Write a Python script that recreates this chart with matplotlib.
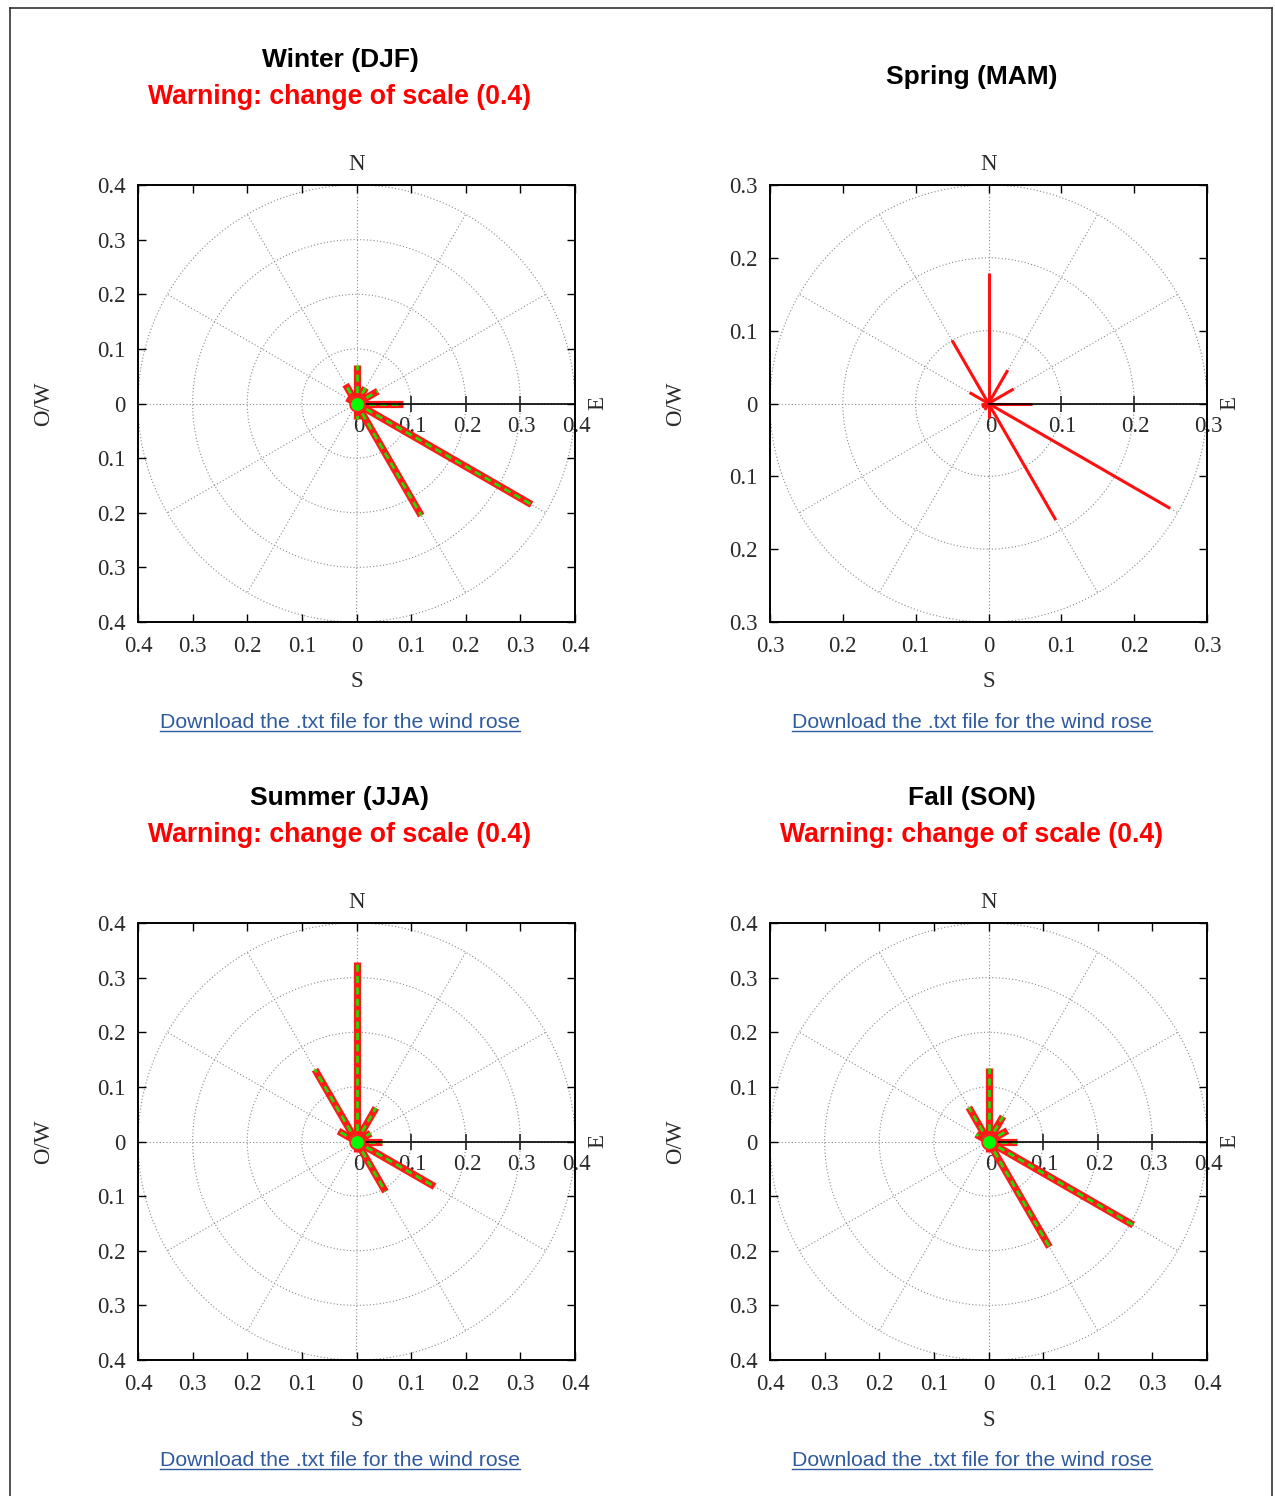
import numpy as np
import matplotlib
matplotlib.use("Agg")
import matplotlib.pyplot as plt
from matplotlib.patches import Circle
from matplotlib.lines import Line2D

W, H = 1275, 1496

# ---------------- data ----------------
bearings = [0, 30, 60, 90, 120, 150, 180, 210, 240, 270, 300, 330]  # degrees from N, clockwise

winter = [0.070, 0.033, 0.045, 0.085, 0.370, 0.237, 0.028, 0.012, 0.010, 0.010, 0.020, 0.040]
spring = [0.179, 0.053, 0.040, 0.060, 0.288, 0.185, 0.020, 0.010, 0.010, 0.010, 0.030, 0.100]
summer = [0.329, 0.071, 0.030, 0.046, 0.165, 0.106, 0.020, 0.010, 0.010, 0.010, 0.038, 0.152]
fall   = [0.134, 0.053, 0.040, 0.053, 0.306, 0.223, 0.020, 0.010, 0.010, 0.010, 0.026, 0.072]

titles = ["Winter (DJF)", "Spring (MAM)", "Summer (JJA)", "Fall (SON)"]
warnings = ["Warning: change of scale (0.4)", None,
            "Warning: change of scale (0.4)", "Warning: change of scale (0.4)"]
scales = [0.4, 0.3, 0.4, 0.4]
styles = ["dashed", "plain", "dashed", "dashed"]
values = [winter, spring, summer, fall]

tick_vals_04 = [-0.4, -0.3, -0.2, -0.1, 0.0, 0.1, 0.2, 0.3, 0.4]
tick_labs_04 = ["0.4", "0.3", "0.2", "0.1", "0", "0.1", "0.2", "0.3", "0.4"]
tick_vals_03 = [-0.3, -0.2, -0.1, 0.0, 0.1, 0.2, 0.3]
tick_labs_03 = ["0.3", "0.2", "0.1", "0", "0.1", "0.2", "0.3"]

link_text = "Download the .txt file for the wind rose"

# ---------------- layout (pixels) ----------------
col_center = [340, 972]
ax_left = [138, 770]
ax_size = 437
ax_top = [185, 923]

SERIF = ["Liberation Serif", "DejaVu Serif"]
SANS = ["Liberation Sans", "DejaVu Sans"]
FS = 16.5

fig = plt.figure(figsize=(W / 100, H / 100), dpi=100)
fig.patch.set_facecolor("white")


def fx(x):
    return x / W


def fy(y):
    return 1 - y / H


# page border
for (x0, y0, x1, y1) in [(10, 8, 1272, 8), (10, 8, 10, 1500), (1272, 8, 1272, 1500)]:
    fig.add_artist(Line2D([fx(x0), fx(x1)], [fy(y0), fy(y1)], transform=fig.transFigure,
                          color="#333333", lw=1.2))

grid_col = "#8a8a8a"
txt_col = "#2a2a2a"

for i in range(4):
    row, col = divmod(i, 2)
    L = ax_left[col]
    T = ax_top[row]
    R = L + ax_size
    B = T + ax_size
    rmax = scales[i]
    ax = fig.add_axes([fx(L), fy(B), ax_size / W, ax_size / H])
    ax.set_xlim(-rmax, rmax)
    ax.set_ylim(-rmax, rmax)
    if rmax == 0.4:
        tv, tl = tick_vals_04, tick_labs_04
    else:
        tv, tl = tick_vals_03, tick_labs_03
    ax.set_xticks(tv)
    ax.set_xticklabels(tl)
    ax.set_yticks(tv)
    ax.set_yticklabels(tl)
    ax.tick_params(direction="in", length=6, width=1.0, top=True, right=True,
                   labelsize=FS, pad=9, colors="black")
    ax.tick_params(axis="x", pad=10)
    for lab in ax.get_xticklabels() + ax.get_yticklabels():
        lab.set_family(SERIF)
        lab.set_color(txt_col)
    for s in ax.spines.values():
        s.set_linewidth(1.4)
        s.set_color("black")

    # polar grid
    rings = [0.1 * k for k in range(1, int(round(rmax / 0.1)) + 1)]
    for r in rings:
        ax.add_patch(Circle((0, 0), r, fill=False, ec=grid_col, lw=0.8,
                            ls=(0, (1, 2)), zorder=1))
    for a in range(0, 360, 30):
        t = np.deg2rad(a)
        ax.plot([0, rmax * np.cos(t)], [0, rmax * np.sin(t)], color=grid_col, lw=0.8,
                ls=(0, (1, 2)), zorder=1)

    # r axis
    ax.plot([0, rmax], [0, 0], color="black", lw=1.2, zorder=6)
    rt = [0.1 * k for k in range(1, int(round(rmax / 0.1)))]
    ax.plot(rt, [0] * len(rt), ls="none", marker="|", ms=12, mew=1.2, color="#222222", zorder=6)
    rl = [0.1 * k for k in range(0, int(round(rmax / 0.1)) + 1)]
    for r in rl:
        lab = "0" if r == 0 else f"{r:.1f}"
        ax.annotate(lab, (r, 0), xytext=(2 if r == 0 else 1, -9), textcoords="offset points",
                    ha="center", va="top", fontsize=FS, family=SERIF, color=txt_col, zorder=2)

    # wind vectors
    vals = values[i]
    for b, v in zip(bearings, vals):
        t = np.deg2rad(b)
        xs = [0, v * np.sin(t)]
        ys = [0, v * np.cos(t)]
        if styles[i] == "dashed":
            ax.plot(xs, ys, color="#ff1a1a", lw=5.2, solid_capstyle="butt", zorder=4)
            ax.plot(xs, ys, color="#22dd00", lw=2.0, ls=(0, (2.5, 1.6)), zorder=5)
        else:
            ax.plot(xs, ys, color="#ff1010", lw=2.2, solid_capstyle="butt", zorder=4)
    if styles[i] == "dashed":
        ax.plot([0], [0], marker="o", ms=10.5, mfc="#00ff00", mec="#ff2020", mew=1.3, zorder=7)

    cx = L + ax_size / 2
    cy = T + ax_size / 2
    # compass labels
    fig.text(fx(cx), fy(T - 20), "N", ha="center", va="center", fontsize=FS, family=SERIF,
             color=txt_col)
    fig.text(fx(cx), fy(B + 60), "S", ha="center", va="center", fontsize=FS, family=SERIF,
             color=txt_col)
    fig.text(fx(L - 94), fy(cy), "O/W", ha="center", va="center", fontsize=FS, family=SERIF,
             rotation=90, color=txt_col)
    fig.text(fx(R + 23), fy(cy), "E", ha="center", va="center", fontsize=FS, family=SERIF,
             rotation=90, color=txt_col)

    # titles
    ccx = col_center[col]
    base = 0 if row == 0 else 738
    if warnings[i] is None:
        fig.text(fx(ccx), fy(base + 77), titles[i], ha="center", va="center", fontsize=19,
                 family=SANS, weight="bold", color="black")
    else:
        fig.text(fx(ccx), fy(base + 59.5), titles[i], ha="center", va="center", fontsize=19,
                 family=SANS, weight="bold", color="black")
        fig.text(fx(ccx), fy(base + 97.5), warnings[i], ha="center", va="center", fontsize=19.2,
                 family=SANS, weight="bold", color="#ff0000")
    # link
    ly = base + 722
    t = fig.text(fx(ccx), fy(ly), link_text, ha="center", va="center", fontsize=15.3,
                 family=SANS, color="#2f5b9e")
    fig.canvas.draw()
    bb = t.get_window_extent()
    x0, x1 = bb.x0 / W, bb.x1 / W
    uy = bb.y0 / H + 0.5 / H
    fig.add_artist(Line2D([x0, x1], [uy, uy], transform=fig.transFigure, color="#2f5b9e", lw=1.0))

fig.savefig("out.png", dpi=100, facecolor="white")
